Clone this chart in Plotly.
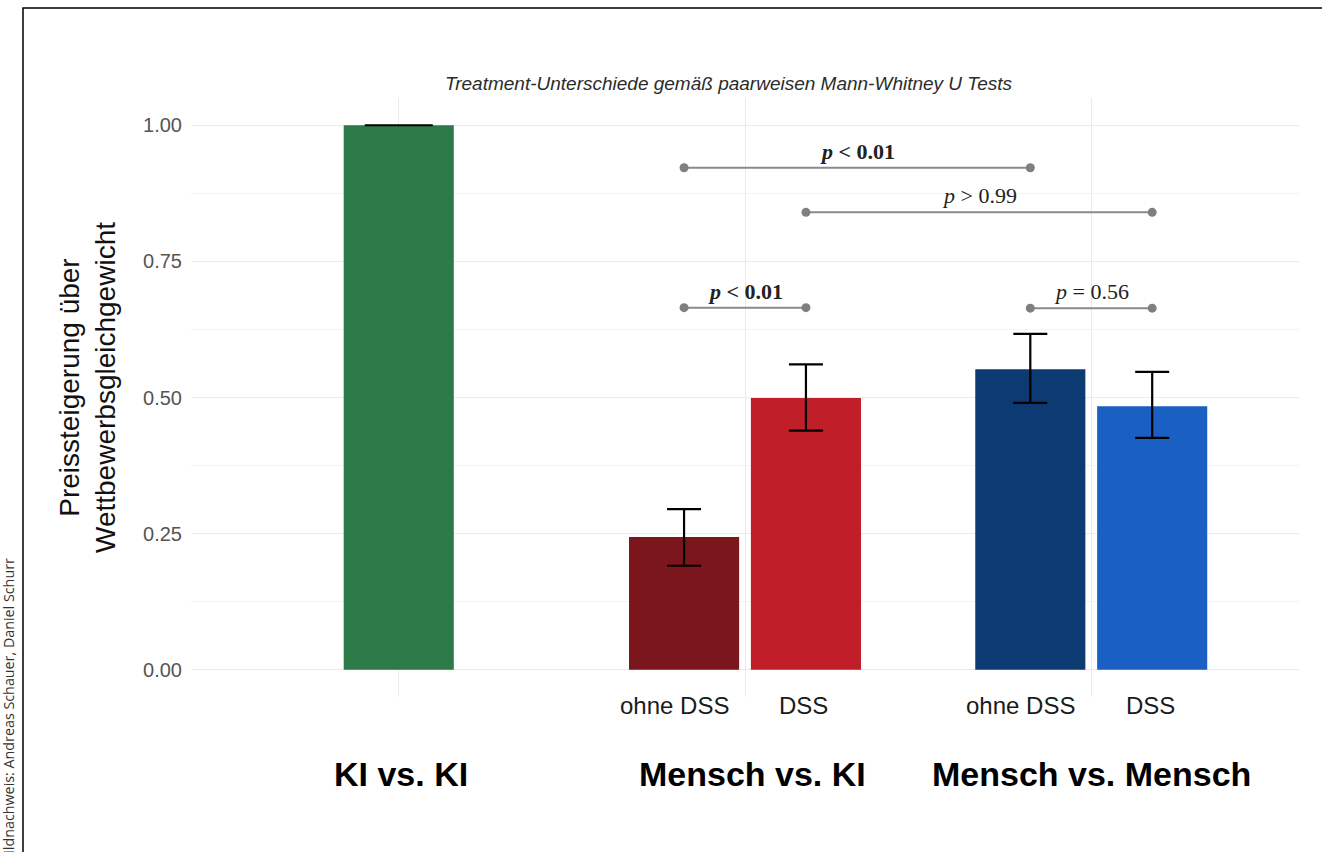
import plotly.graph_objects as go

# ---------------- data ----------------
groups = ["KI vs. KI", "Mensch vs. KI", "Mensch vs. Mensch"]
treatments = ["ohne DSS", "DSS"]

ki_mean = [1.00]
ki_upper = [1.00]
ki_lower = [1.00]

# Mensch vs. KI, Mensch vs. Mensch
ohne_mean = [0.244, 0.552]
ohne_upper = [0.295, 0.617]
ohne_lower = [0.191, 0.490]

dss_mean = [0.499, 0.484]
dss_upper = [0.561, 0.547]
dss_lower = [0.439, 0.426]

color_ki = "#2b7a48"
colors_ohne = ["#7b161d", "#0e3a74"]
colors_dss = ["#c01e29", "#1a5fc3"]

# pairwise comparisons: (group a, treatment a, group b, treatment b, height, label, bold)
comparisons = [
    (1, "ohne DSS", 2, "ohne DSS", 0.922, "p < 0.01", True),
    (1, "DSS", 2, "DSS", 0.840, "p > 0.99", False),
    (1, "ohne DSS", 1, "DSS", 0.665, "p < 0.01", True),
    (2, "ohne DSS", 2, "DSS", 0.664, "p = 0.56", False),
]

title_text = "Treatment-Unterschiede gemäß paarweisen Mann-Whitney U Tests"
y_title = "Preissteigerung über<br>Wettbewerbsgleichgewicht"
credit = "Bildnachweis: Andreas Schauer, Daniel Schurr"
y_ticks = [0, 0.25, 0.5, 0.75, 1.0]
y_ticktext = ["0.00", "0.25", "0.50", "0.75", "1.00"]

# ---------------- layout geometry ----------------
W, H = 1322, 852
ML, MR, MT, MB = 191, 23, 98, 155
PW, PH = W - ML - MR, H - MT - MB
DODGE = 0.176
BAR_W = 0.318


def px_x(p):
    return (p - ML) / PW


def px_y(p):
    return (H - MB - p) / PH


def bar_pos(gi, treat):
    if gi == 0:
        return 0.0
    return gi + (-DODGE if treat == "ohne DSS" else DODGE)


fig = go.Figure()

# KI vs. KI
fig.add_trace(go.Bar(
    x=[0], y=ki_mean, width=BAR_W, marker=dict(color=color_ki, line=dict(width=0)),
    error_y=dict(type="data", symmetric=False,
                 array=[u - m for u, m in zip(ki_upper, ki_mean)],
                 arrayminus=[m - l for m, l in zip(ki_mean, ki_lower)],
                 color="black", thickness=2.2, width=34),
    showlegend=False, hoverinfo="skip"))

# ohne DSS
fig.add_trace(go.Bar(
    x=[bar_pos(g, "ohne DSS") for g in (1, 2)], y=ohne_mean, width=BAR_W,
    marker=dict(color=colors_ohne, line=dict(width=0)),
    error_y=dict(type="data", symmetric=False,
                 array=[u - m for u, m in zip(ohne_upper, ohne_mean)],
                 arrayminus=[m - l for m, l in zip(ohne_mean, ohne_lower)],
                 color="black", thickness=2.2, width=17),
    showlegend=False, hoverinfo="skip"))

# DSS
fig.add_trace(go.Bar(
    x=[bar_pos(g, "DSS") for g in (1, 2)], y=dss_mean, width=BAR_W,
    marker=dict(color=colors_dss, line=dict(width=0)),
    error_y=dict(type="data", symmetric=False,
                 array=[u - m for u, m in zip(dss_upper, dss_mean)],
                 arrayminus=[m - l for m, l in zip(dss_mean, dss_lower)],
                 color="black", thickness=2.2, width=17),
    showlegend=False, hoverinfo="skip"))

annotations = []

# comparison brackets
for ga, ta, gb, tb, yv, lab, bold in comparisons:
    xa, xb = bar_pos(ga, ta), bar_pos(gb, tb)
    fig.add_trace(go.Scatter(
        x=[xa, xb], y=[yv, yv], mode="lines+markers",
        line=dict(color="#8a8a8a", width=2),
        marker=dict(color="#7f7f7f", size=9),
        showlegend=False, hoverinfo="skip", cliponaxis=False))
    txt = "<i>p</i> " + lab[2:].replace("<", "&lt;").replace(">", "&gt;")
    if bold:
        txt = "<b>" + txt + "</b>"
    annotations.append(dict(
        x=(xa + xb) / 2, y=yv, xref="x", yref="y", text=txt, showarrow=False,
        xanchor="center", yanchor="bottom", yshift=2,
        font=dict(family="Liberation Serif", size=22, color="#222222")))

# title
annotations.append(dict(
    x=px_x(729), y=px_y(83), xref="paper", yref="paper",
    text="<i>" + title_text + "</i>", showarrow=False,
    xanchor="center", yanchor="middle",
    font=dict(family="Liberation Sans", size=19, color="#2b2b2b")))

# y-axis title
annotations.append(dict(
    x=px_x(88), y=px_y(388), xref="paper", yref="paper",
    text=y_title, showarrow=False, textangle=-90,
    xanchor="center", yanchor="middle",
    font=dict(family="Liberation Sans", size=28, color="#111111")))

# treatment labels
sub_shift = {"ohne DSS": -10, "DSS": -2}
for g in (1, 2):
    for t in treatments:
        annotations.append(dict(
            x=bar_pos(g, t), y=px_y(705), xref="x", yref="paper",
            text=t, showarrow=False, xanchor="center", yanchor="middle",
            xshift=sub_shift[t],
            font=dict(family="Liberation Sans", size=24, color="#1a1a1a")))

# group labels
group_shift = [2, 7, 0]
for gi, g in enumerate(groups):
    annotations.append(dict(
        x=gi, y=px_y(774), xref="x", yref="paper",
        text="<b>" + g + "</b>", showarrow=False, xanchor="center", yanchor="middle",
        xshift=group_shift[gi],
        font=dict(family="Liberation Sans", size=34, color="#000000")))

# credit
annotations.append(dict(
    x=px_x(8), y=px_y(711), xref="paper", yref="paper",
    text=credit, showarrow=False, textangle=-90,
    xanchor="center", yanchor="middle",
    font=dict(family="Open Sans", size=14.3, color="#333333")))

fig.update_layout(
    width=W, height=H,
    margin=dict(l=ML, r=MR, t=MT, b=MB),
    paper_bgcolor="white", plot_bgcolor="white",
    showlegend=False,
    annotations=annotations,
    shapes=[dict(type="rect", xref="paper", yref="paper",
                 x0=px_x(23), x1=px_x(1400), y0=px_y(8), y1=px_y(900),
                 line=dict(color="black", width=1.5), fillcolor="rgba(0,0,0,0)")],
    xaxis=dict(range=[-0.6, 2.6], tickvals=[0, 1, 2], showticklabels=False,
               showgrid=True, gridcolor="#ebebeb", gridwidth=1.4,
               zeroline=False, showline=False, ticks=""),
    yaxis=dict(range=[-0.05, 1.05], tickvals=y_ticks, ticktext=y_ticktext,
               showgrid=True, gridcolor="#ebebeb", gridwidth=1.4,
               zeroline=False, showline=False, ticks="",
               ticklabelstandoff=8,
               tickfont=dict(family="Liberation Sans", size=20, color="#555555"),
               minor=dict(tickvals=[0.125, 0.375, 0.625, 0.875], showgrid=True,
                          gridcolor="#f3f3f3", gridwidth=1)),
)

fig.write_html("out.html",
               config={"displayModeBar": False},
               post_script="document.body.style.margin='0';document.body.style.overflow='hidden';")
